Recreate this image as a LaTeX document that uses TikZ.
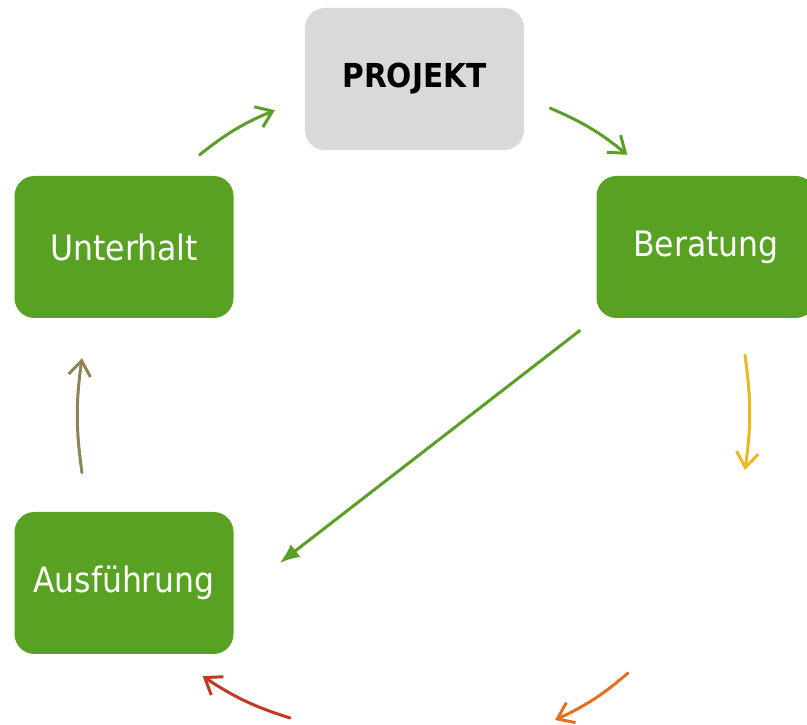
\documentclass[tikz,border=0pt]{standalone}
\usepackage{fontspec}
\setmainfont{DejaVu Sans Condensed}
\usetikzlibrary{arrows.meta}
\definecolor{boxgreen}{RGB}{88,161,34}
\definecolor{boxgray}{RGB}{217,217,217}
\definecolor{arrowgreen}{RGB}{90,160,40}
\definecolor{arrowyellow}{RGB}{232,185,35}
\definecolor{arroworange}{RGB}{232,110,30}
\definecolor{arrowred}{RGB}{192,57,35}
\definecolor{arrowolive}{RGB}{142,132,85}
\tikzset{basic/.style={rectangle,rounded corners=20pt,
                       minimum width=219pt,minimum height=142pt,
                       text badly centered}}
\tikzset{phase/.style={basic,fill=boxgreen,text=white,
                       font=\fontsize{35}{40}\selectfont}}

\begin{document}
\begin{tikzpicture}[x=1pt,y=1pt,
    % styles for clarity
    project/.style ={basic, fill=boxgray, text=black,
                     font=\fontsize{33}{38}\selectfont\bfseries},
    cycle/.style   ={line width=3pt, line cap=round,
                     -{Straight Barb[length=15pt,width=22pt]}, bend left=8},
    shortcut/.style={line width=3pt, arrowgreen,
                     -{Latex[length=20pt,width=16pt]}}
  ]
    \useasboundingbox (0,0) rectangle (807,725);

    \node[project](projekt) at (414.5,646){PROJEKT};
    \node[phase](beratung) at (706,478) {Beratung};
    \node[phase](unterhalt) at (124,478) {Unterhalt};
    \node[phase](ausfuehrung) at (124,142) {Ausführung};
    \coordinate (leer1) at (706,142);
    \coordinate (leer2) at (414.5,-26);

    \draw[cycle, arrowgreen]
      ([shift={(-34,21)}]unterhalt.north east) to
      ([shift={(-30,40)}]projekt.south west);
    \draw[cycle, arrowgreen]
      ([shift={(26,42)}]projekt.south east) to
      ([shift={(31,21)}]beratung.north west);
    \draw[cycle, arrowyellow]
      ([shift={(39,-37)}]beratung.south) to
      ([shift={(39,113)}]leer1);
    \draw[cycle, arroworange]
      ([shift={(-78,-90)}]leer1) to
      ([shift={(140.5,31)}]leer2);
    \draw[cycle, arrowred]
      ([shift={(-124.5,33)}]leer2) to
      ([shift={(-31,-22)}]ausfuehrung.south east);
    \draw[cycle, arrowolive]
      ([shift={(-42,39)}]ausfuehrung.north) to
      ([shift={(-42,-40)}]unterhalt.south);

    \draw[shortcut] ([shift={(-16,-12)}]beratung.south west) --
      ([shift={(46,20)}]ausfuehrung.east);
  \end{tikzpicture}
\end{document}
